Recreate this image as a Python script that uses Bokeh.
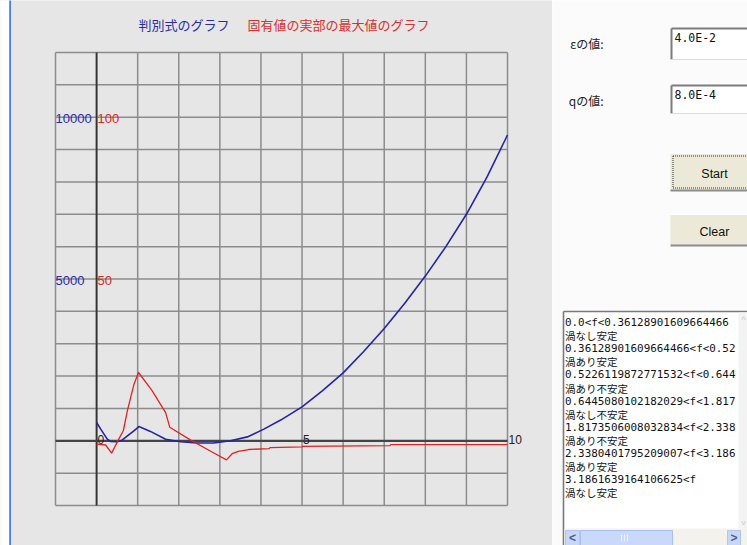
from bokeh.plotting import figure
from bokeh.layouts import row
from bokeh.models import Range1d
from bokeh.core.properties import value
from bokeh.embed import file_html
from bokeh.resources import INLINE

# ---- data -------------------------------------------------------------
# discriminant as a function of f (blue curve, left scale)
disc_f = [0.0, 0.1, 0.26, 0.34, 0.5, 0.62, 0.75, 0.9, 1.03, 1.31, 1.68, 2.04,
          2.45, 2.85, 3.26, 3.67, 4.07, 4.48, 5.0, 5.5, 6.0, 6.5, 7.0, 7.5,
          8.0, 8.5, 9.0, 9.5, 10.0]
disc_val = [565, 360, 50, -20, -30, 20, 150, 300, 440, 290, 50, -30,
            -70, -70, 0, 120, 360, 640, 1050, 1550, 2100, 2760, 3470, 4250,
            5090, 6000, 7000, 8150, 9450]

# maximum real part of the eigenvalues (red curve, right-hand scale)
eig_f = [0.0, 0.22, 0.365, 0.54, 0.65, 0.75, 0.91, 1.02, 1.35, 1.68, 1.78,
         2.29, 2.8, 3.16, 3.3, 3.45, 3.7, 4.2, 4.22, 5.0, 5.02, 7.14, 7.16, 10.0]
eig_val = [-1.0, -1.3, -3.8, 0.5, 3.1, 9.3, 17.5, 21.1, 15.5, 8.7, 4.2,
           0.2, -3.4, -5.9, -4.0, -3.3, -2.7, -2.4, -2.1, -1.9, -1.7, -1.5, -1.2, -1.2]

grid_x = list(range(-1, 11))
grid_disc = list(range(-2000, 12001, 1000))
x_tick_vals = [0, 5, 10]
x_tick_text = ["0", "5", "10"]
disc_tick_vals = [5000, 10000]
disc_tick_text = ["5000", "10000"]
eig_tick_vals = [50, 100]
eig_tick_text = ["50", "100"]

title_disc = "判別式のグラフ"
title_eig = "固有値の実部の最大値のグラフ"

eps_label = "εの値:"
eps_text = "4.0E-2"
q_label = "qの値:"
q_text = "8.0E-4"
btn_start = "Start"
btn_clear = "Clear"
result_lines = [
    "0.0<f<0.36128901609664466",
    "渦なし安定",
    "0.36128901609664466<f<0.5226119872771532",
    "渦あり安定",
    "0.5226119872771532<f<0.6445080102182029",
    "渦あり不安定",
    "0.6445080102182029<f<1.8173506008032834",
    "渦なし不安定",
    "1.8173506008032834<f<2.3380401795209007",
    "渦あり不安定",
    "2.3380401795209007<f<3.1861639164106625",
    "渦あり安定",
    "3.1861639164106625<f",
    "渦なし安定",
]

# ---- graph panel ------------------------------------------------------
H = 545
WL = 552
BOX_L, BOX_R, BOX_T, BOX_B = 55, 507, 52, 505       # grid box in pixels
X0, X1 = -1, 10
Y0, Y1 = -2000, 12000
EIG_PER_DISC = 100.0                                 # 100 on the blue scale = 1 on the red scale

kx = (BOX_R - BOX_L) / (X1 - X0)
ky = (BOX_B - BOX_T) / (Y1 - Y0)
x_start = X0 - BOX_L / kx
x_end = X1 + (WL - BOX_R) / kx
y_start = Y0 - (H - BOX_B) / ky
y_end = Y1 + BOX_T / ky


def dx(px):
    return x_start + px / kx


def dy(py):
    return y_end - py / ky


GRAY_BG = "#e6e6e6"
p = figure(width=WL, height=H,
           x_range=Range1d(x_start, x_end), y_range=Range1d(y_start, y_end),
           x_axis_type=None, y_axis_type=None,
           toolbar_location=None, output_backend="svg", min_border=0,
           background_fill_color=GRAY_BG, border_fill_color=GRAY_BG,
           outline_line_color=None)
p.extra_y_ranges = {"eig": Range1d(y_start / EIG_PER_DISC, y_end / EIG_PER_DISC)}
p.xgrid.visible = False
p.ygrid.visible = False

# white strip and blue frame edge on the far left
p.quad(left=[x_start - 1], right=[dx(9)], bottom=[y_start - 1000], top=[y_end + 1000],
       fill_color="white", line_color=None)
p.segment(x0=[dx(9.6)], y0=[y_start - 1000], x1=[dx(9.6)], y1=[y_end + 1000],
          line_color="#3a72dc", line_width=1.6)

# grid
GRID_C = "#8c8c8c"
p.segment(x0=grid_x, y0=[Y0] * len(grid_x), x1=grid_x, y1=[Y1] * len(grid_x),
          line_color=GRID_C, line_width=1.5)
p.segment(x0=[X0] * len(grid_disc), y0=grid_disc, x1=[X1] * len(grid_disc), y1=grid_disc,
          line_color=GRID_C, line_width=1.5)

# axes through the origin
p.segment(x0=[0], y0=[Y0], x1=[0], y1=[Y1], line_color="#333333", line_width=1.8)
p.segment(x0=[X0], y0=[0], x1=[X1], y1=[0], line_color="#444444", line_width=2.2)

# curves
p.line(disc_f, disc_val, line_color="#2323aa", line_width=1.6)
p.line(eig_f, eig_val, y_range_name="eig", line_color="#dd2424", line_width=1.3)

# scale labels
LAT = value("Liberation Sans")
p.text(x=[X0] * len(disc_tick_vals), y=disc_tick_vals, text=disc_tick_text,
       text_font=LAT, text_font_size="13px", text_color="#2a2aa8",
       text_align="left", text_baseline="alphabetic", y_offset=1)
p.text(x=[0] * len(eig_tick_vals), y=eig_tick_vals, text=eig_tick_text,
       y_range_name="eig", text_font=LAT, text_font_size="13px", text_color="#d42a2a",
       text_align="left", text_baseline="alphabetic", x_offset=1, y_offset=1)
p.text(x=x_tick_vals, y=[0] * len(x_tick_vals), text=x_tick_text,
       text_font=LAT, text_font_size="12px", text_color="#222222",
       text_align="left", text_baseline="alphabetic", x_offset=1, y_offset=-1)

# headings
JP = value("Noto Sans CJK JP")
p.text(x=[dx(138)], y=[dy(23.5)], text=[title_disc], text_font=JP,
       text_font_size="13px", text_color="#2a2aa6",
       text_align="left", text_baseline="middle")
p.text(x=[dx(247)], y=[dy(23.5)], text=[title_eig], text_font=JP,
       text_font_size="13px", text_color="#d63030",
       text_align="left", text_baseline="middle")

# ---- control panel ----------------------------------------------------
XR0, XR1 = WL, 747
c = figure(width=XR1 - XR0, height=H,
           x_range=Range1d(XR0, XR1), y_range=Range1d(H, 0),
           x_axis_type=None, y_axis_type=None,
           toolbar_location=None, output_backend="svg", min_border=0,
           background_fill_color="#fbfbfb", border_fill_color="#fbfbfb",
           outline_line_color=None)
c.xgrid.visible = False
c.ygrid.visible = False

MONO = value("DejaVu Sans Mono")

# parameter labels
c.text(x=[603, 603], y=[43, 100], text=[eps_label, q_label], text_font=JP,
       text_font_size="12px", text_color="#222222",
       text_align="right", text_baseline="middle")

# text fields
for top, bot, txt in [(28, 59, eps_text), (85, 113, q_text)]:
    c.quad(left=[671], right=[760], top=[top], bottom=[bot],
           fill_color="white", line_color=None)
    c.segment(x0=[671, 671], y0=[top, top], x1=[760, 671], y1=[top, bot],
              line_color="#7c7c7c", line_width=2)
    c.segment(x0=[671], y0=[bot], x1=[760], y1=[bot],
              line_color="#dcdcdc", line_width=1)
    c.text(x=[674], y=[top + 2], text=[txt], text_font=MONO,
           text_font_size="11.5px", text_color="#111111",
           text_align="left", text_baseline="top")

# buttons
for top, bot, txt, focused in [(153, 190, btn_start, True), (214, 245, btn_clear, False)]:
    c.quad(left=[670], right=[760], top=[top], bottom=[bot],
           fill_color="#ece9d8", line_color=None)
    c.segment(x0=[670], y0=[bot], x1=[760], y1=[bot],
              line_color="#8c8c8c", line_width=2)
    c.segment(x0=[670], y0=[top], x1=[760], y1=[top],
              line_color="#ffffff", line_width=1)
    if focused:
        c.segment(x0=[672.5, 672.5, 672.5], y0=[155.5, 155.5, 187.5],
                  x1=[672.5, 760, 760], y1=[187.5, 155.5, 187.5],
                  line_color="#333333", line_width=1, line_dash="1 1")
    c.text(x=[714], y=[(top + bot) / 2 + 2], text=[txt], text_font=LAT,
           text_font_size="12.5px", text_color="#111111",
           text_align="center", text_baseline="middle")

# result area: a text box scrolled to its left edge, showing the first columns
TA_L, TA_T = 563, 311
VISIBLE_COLS = 26
c.quad(left=[TA_L], right=[760], top=[TA_T], bottom=[560],
       fill_color="white", line_color=None)
c.segment(x0=[TA_L, TA_L], y0=[TA_T, TA_T], x1=[760, TA_L], y1=[TA_T, 560],
          line_color="#7a7a7a", line_width=1.6)

LINE_STEP = 13.1
num_idx = list(range(0, len(result_lines), 2))
jp_idx = list(range(1, len(result_lines), 2))
c.text(x=[TA_L + 1.5] * len(num_idx), y=[322 + LINE_STEP * i for i in num_idx],
       text=[result_lines[i][:VISIBLE_COLS] for i in num_idx], text_font=MONO,
       text_font_size="10.9px", text_color="#111111",
       text_align="left", text_baseline="middle")
c.text(x=[TA_L + 1.5] * len(jp_idx), y=[322 + LINE_STEP * i for i in jp_idx],
       text=[result_lines[i] for i in jp_idx], text_font=JP,
       text_font_size="10.5px", text_color="#111111",
       text_align="left", text_baseline="middle")

# vertical scrollbar
c.quad(left=[738], right=[748], top=[TA_T + 1], bottom=[528],
       fill_color="#f3f3f3", line_color=None)
c.text(x=[743], y=[319], text=["^"], text_font=LAT, text_font_size="9px",
       text_color="#c8c8c8", text_align="center", text_baseline="middle")
c.text(x=[743], y=[522], text=["v"], text_font=LAT, text_font_size="8px",
       text_color="#c8c8c8", text_align="center", text_baseline="middle")

# horizontal scrollbar
c.quad(left=[TA_L + 1], right=[748], top=[528], bottom=[546],
       fill_color="#f3f2ec", line_color=None)
c.quad(left=[565, 727], right=[579, 740], top=[530, 530], bottom=[545, 545],
       fill_color="#c7d7f8", line_color="#b2c6ee", line_width=1)
c.text(x=[572, 733.5], y=[537.5, 537.5], text=["<", ">"], text_font=LAT,
       text_font_size="12px", text_font_style="bold", text_color="#4d6185",
       text_align="center", text_baseline="middle")
c.quad(left=[580], right=[672], top=[530], bottom=[545],
       fill_color="#c9d9fa", line_color="#a9c0ee", line_width=1)
c.segment(x0=[621, 624, 627], y0=[534, 534, 534], x1=[621, 624, 627], y1=[541, 541, 541],
          line_color="#eef3ff", line_width=1)

out = row(p, c)
open("out.html", "w").write(file_html(out, INLINE))
